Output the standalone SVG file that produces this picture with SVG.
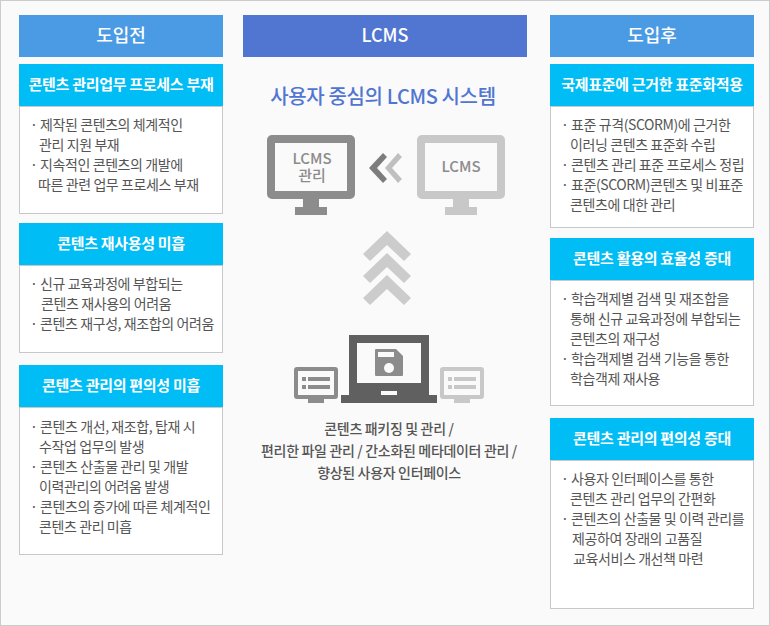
<svg xmlns="http://www.w3.org/2000/svg" width="770" height="626" viewBox="0 0 770 626">
<style>
text{font-family:"Noto Sans CJK KR","Noto Sans",sans-serif}
.hd{fill:#4a9ae4}.sub{fill:#00bdf5}.box{fill:#fff;stroke:#c8c8c8;stroke-width:1}
.ht{font-size:18px;font-weight:500;fill:#fff;text-anchor:middle}
.st{font-size:15px;font-weight:700;fill:#fff;text-anchor:middle;letter-spacing:-.3px}
.li{font-size:14px;fill:#555;letter-spacing:-.4px}
.cap{font-size:14px;font-weight:500;fill:#555;text-anchor:middle;letter-spacing:-.33px}
.mon{font-size:15px;font-weight:500;fill:#8c8c8c;text-anchor:middle}
.chev{fill:#ccc}
</style>
<rect x=".5" y=".5" width="769" height="625" fill="#fafafa" stroke="#ccc"/>
<g id="left-header"><rect class="hd" x="19" y="15" width="204" height="42"/><text class="ht" x="121" y="42">도입전</text></g>
<g id="left-1"><rect class="box" x="19.500" y="106.500" width="203" height="107"/><rect class="sub" x="19" y="64" width="204" height="42"/><text class="st" x="121" y="90">콘텐츠 관리업무 프로세스 부재</text>
<text class="li" y="130"><tspan x="30">·</tspan><tspan x="40">제작된 콘텐츠의 체계적인</tspan></text><text class="li" x="39" y="150">관리 지원 부재</text><text class="li" y="170"><tspan x="30">·</tspan><tspan x="40">지속적인 콘텐츠의 개발에</tspan></text><text class="li" x="38" y="190">따른 관련 업무 프로세스 부재</text></g>
<g id="left-2"><rect class="box" x="19.500" y="265.500" width="203" height="87"/><rect class="sub" x="19" y="223" width="204" height="42"/><text class="st" x="121" y="249">콘텐츠 재사용성 미흡</text>
<text class="li" y="289"><tspan x="30">·</tspan><tspan x="40">신규 교육과정에 부합되는</tspan></text><text class="li" x="41" y="309">콘텐츠 재사용의 어려움</text><text class="li" y="329"><tspan x="30">·</tspan><tspan x="40">콘텐츠 재구성, 재조합의 어려움</tspan></text></g>
<g id="left-3"><rect class="box" x="19.500" y="407.500" width="203" height="147"/><rect class="sub" x="19" y="365" width="204" height="42"/><text class="st" x="121" y="391">콘텐츠 관리의 편의성 미흡</text>
<text class="li" y="432"><tspan x="30">·</tspan><tspan x="40">콘텐츠 개선, 재조합, 탑재 시</tspan></text><text class="li" x="39" y="452">수작업 업무의 발생</text><text class="li" y="472"><tspan x="30">·</tspan><tspan x="40">콘텐츠 산출물 관리 및 개발</tspan></text><text class="li" x="39" y="492">이력관리의 어려움 발생</text><text class="li" y="512"><tspan x="30">·</tspan><tspan x="40">콘텐츠의 증가에 따른 체계적인</tspan></text><text class="li" x="39" y="532">콘텐츠 관리 미흡</text></g>

<g id="center-header"><rect x="243" y="15" width="284" height="42" fill="#5176d2"/><text class="ht" x="385" y="42">LCMS</text></g>
<text id="center-title" x="383" y="104" font-size="20" font-weight="500" fill="#5176d2" text-anchor="middle" letter-spacing="-.37">사용자 중심의 LCMS 시스템</text>
<g id="monitor-manage" fill="#8c8c8c"><path fill-rule="evenodd" d="M272 135h78a5 5 0 0 1 5 5v54a5 5 0 0 1-5 5h-78a5 5 0 0 1-5-5v-54a5 5 0 0 1 5-5zM275 143v48h72v-48z"/><rect x="303" y="199" width="16" height="8"/><rect x="295" y="207" width="32" height="8"/>
<text class="mon"><tspan x="312" y="164">LCMS</tspan><tspan x="312" y="181">관리</tspan></text></g>
<g id="monitor-lcms" fill="#c8c8c8"><path fill-rule="evenodd" d="M422 135h78a5 5 0 0 1 5 5v54a5 5 0 0 1-5 5h-78a5 5 0 0 1-5-5v-54a5 5 0 0 1 5-5zM425 143v48h72v-48z"/><rect x="453" y="199" width="16" height="8"/><rect x="445" y="207" width="32" height="8"/>
<text class="mon" x="461" y="172">LCMS</text></g>
<g id="connectors">
<polygon points="369,168 383,153 387,157 377,168 387,179 383,183" fill="#7d7d7d"/>
<polygon points="385,168 398,153 402,157 392,168 402,179 398,183" fill="#c0c0c0"/>
<polygon class="chev" points="387,231 411,254 404,261 387,245 370,261 363,254"/>
<polygon class="chev" points="387,253 411,276 404,283 387,267 370,283 363,276"/>
<polygon class="chev" points="387,275 411,298 404,305 387,289 370,305 363,298"/>
</g>
<g id="laptop"><path fill="#606060" fill-rule="evenodd" d="M349 335h80v60h8v8h-96v-8h8zM357 343v40h64v-40z"/><rect x="381" y="391" width="16" height="4" fill="#fafafa"/>
<path fill="#8c8c8c" d="M376 349h20l7 7v19a1 1 0 0 1-1 1h-26a1 1 0 0 1-1-1v-25a1 1 0 0 1 1-1z"/><rect x="378" y="352" width="16" height="5" fill="#fafafa"/><circle cx="389" cy="368" r="5" fill="#fafafa"/></g>
<g id="screen-left" fill="#8c8c8c"><path fill-rule="evenodd" d="M297 367h38a3 3 0 0 1 3 3v26a3 3 0 0 1-3 3h-38a3 3 0 0 1-3-3v-26a3 3 0 0 1 3-3zM298 371v24h36v-24z"/><rect x="308" y="399" width="16" height="4"/><rect x="302" y="377" width="4" height="4"/><rect x="308" y="377" width="22" height="4"/><rect x="302" y="385" width="4" height="4"/><rect x="308" y="385" width="22" height="4"/></g>
<g id="screen-right" fill="#c8c8c8"><path fill-rule="evenodd" d="M443 367h38a3 3 0 0 1 3 3v26a3 3 0 0 1-3 3h-38a3 3 0 0 1-3-3v-26a3 3 0 0 1 3-3zM444 371v24h36v-24z"/><rect x="454" y="399" width="16" height="4"/><rect x="448" y="377" width="4" height="4"/><rect x="454" y="377" width="22" height="4"/><rect x="448" y="385" width="4" height="4"/><rect x="454" y="385" width="22" height="4"/></g>
<g id="center-caption"><text class="cap" x="389" y="434">콘텐츠 패키징 및 관리 /</text><text class="cap" x="389" y="456">편리한 파일 관리 / 간소화된 메타데이터 관리 /</text><text class="cap" x="389" y="478">향상된 사용자 인터페이스</text></g>

<g id="right-header"><rect class="hd" x="550" y="15" width="204" height="42"/><text class="ht" x="652" y="42">도입후</text></g>
<g id="right-1"><rect class="box" x="550.500" y="106.500" width="203" height="121"/><rect class="sub" x="550" y="64" width="204" height="42"/><text class="st" x="652" y="90">국제표준에 근거한 표준화적용</text>
<text class="li" y="130"><tspan x="561">·</tspan><tspan x="571">표준 규격(SCORM)에 근거한</tspan></text><text class="li" x="570" y="150">이러닝 콘텐츠 표준화 수립</text><text class="li" y="170"><tspan x="561">·</tspan><tspan x="571">콘텐츠 관리 표준 프로세스 정립</tspan></text><text class="li" y="190"><tspan x="561">·</tspan><tspan x="571">표준(SCORM)콘텐츠 및 비표준</tspan></text><text class="li" x="570" y="210">콘텐츠에 대한 관리</text></g>
<g id="right-2"><rect class="box" x="550.500" y="280.500" width="203" height="125"/><rect class="sub" x="550" y="238" width="204" height="42"/><text class="st" x="652" y="264">콘텐츠 활용의 효율성 증대</text>
<text class="li" y="304"><tspan x="561">·</tspan><tspan x="571">학습객제별 검색 및 재조합을</tspan></text><text class="li" x="570" y="324">통해 신규 교육과정에 부합되는</text><text class="li" x="570" y="344">콘텐츠의 재구성</text><text class="li" y="364"><tspan x="561">·</tspan><tspan x="571">학습객제별 검색 기능을 통한</tspan></text><text class="li" x="570" y="384">학습객제 재사용</text></g>
<g id="right-3"><rect class="box" x="550.500" y="460.500" width="203" height="148"/><rect class="sub" x="550" y="418" width="204" height="42"/><text class="st" x="652" y="444">콘텐츠 관리의 편의성 증대</text>
<text class="li" y="484"><tspan x="561">·</tspan><tspan x="571">사용자 인터페이스를 통한</tspan></text><text class="li" x="570" y="504">콘텐츠 관리 업무의 간편화</text><text class="li" y="524"><tspan x="561">·</tspan><tspan x="571">콘텐츠의 산출물 및 이력 관리를</tspan></text><text class="li" x="572" y="544">제공하여 장래의 고품질</text><text class="li" x="573" y="564">교육서비스 개선책 마련</text></g>
</svg>
